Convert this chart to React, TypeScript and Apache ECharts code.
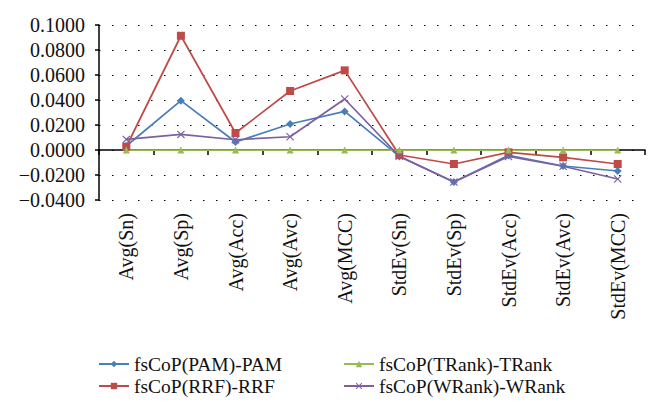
import React, { useEffect, useRef } from "react";
import * as echarts from "echarts";

const categories = [
  "Avg(Sn)", "Avg(Sp)", "Avg(Acc)", "Avg(Avc)", "Avg(MCC)",
  "StdEv(Sn)", "StdEv(Sp)", "StdEv(Acc)", "StdEv(Avc)", "StdEv(MCC)",
];
const pamValues = [0.0032, 0.0395, 0.0064, 0.0208, 0.0309, -0.0051, -0.0256, -0.0043, -0.0128, -0.0168];
const rrfValues = [0.0026, 0.0914, 0.0136, 0.0472, 0.0637, -0.0040, -0.0112, -0.0019, -0.0059, -0.0112];
const trankValues = [0, 0, 0, 0, 0, 0, 0, 0, 0, 0];
const wrankValues = [0.0085, 0.0125, 0.0082, 0.0106, 0.0408, -0.0050, -0.0256, -0.0051, -0.0130, -0.0232];
const seriesNames = ["fsCoP(PAM)-PAM", "fsCoP(RRF)-RRF", "fsCoP(TRank)-TRank", "fsCoP(WRank)-WRank"];

const FONT = "'Liberation Serif', 'DejaVu Serif', serif";
const XSYM = "path://M1,0 L5,4 L9,0 L10,1 L6,5 L10,9 L9,10 L5,6 L1,10 L0,9 L4,5 L0,1 Z";

export default function App() {
  const ref = useRef<HTMLDivElement>(null);
  useEffect(() => {
    if (!ref.current) return;
    const chart = echarts.init(ref.current, null, { renderer: "svg" });
    const mk = (name: string, data: number[], color: string, symbol: string, size: number) => ({
      name,
      type: "line",
      data,
      symbol,
      symbolSize: size,
      lineStyle: { color, width: 1.75 },
      itemStyle: { color },
    });
    chart.setOption({
      animation: false,
      backgroundColor: "#ffffff",
      grid: { left: 99, right: 15, top: 25, bottom: 213 },
      xAxis: {
        type: "category",
        data: categories,
        boundaryGap: true,
        axisLine: { lineStyle: { color: "#000", width: 1.5 } },
        axisTick: { show: true, length: 5, lineStyle: { color: "#000", width: 1.5 } },
        axisLabel: { rotate: 90, margin: 13, fontFamily: FONT, fontSize: 20, color: "#111", interval: 0 },
        splitLine: { show: false },
      },
      yAxis: {
        type: "value",
        min: -0.04,
        max: 0.1,
        interval: 0.02,
        axisLine: { show: true, lineStyle: { color: "#000", width: 1.5 } },
        axisTick: { show: true, length: 4, lineStyle: { color: "#000", width: 1.5 } },
        axisLabel: {
          margin: 14,
          fontFamily: FONT,
          fontSize: 20,
          color: "#111",
          formatter: (v: number) => (v < 0 ? "\u2212" + Math.abs(v).toFixed(4) : v.toFixed(4)),
        },
        splitLine: { show: true, lineStyle: { color: "#000", width: 1.2, type: [1.5, 11.5] } },
      },
      legend: [
        {
          data: [seriesNames[0], seriesNames[1]],
          orient: "vertical",
          left: 93,
          top: 349,
          itemWidth: 30,
          itemHeight: 8,
          itemGap: 2,
          textStyle: { fontFamily: FONT, fontSize: 19.5, color: "#111" },
        },
        {
          data: [seriesNames[2], seriesNames[3]],
          orient: "vertical",
          left: 338,
          top: 349,
          itemWidth: 30,
          itemHeight: 8,
          itemGap: 2,
          textStyle: { fontFamily: FONT, fontSize: 19.5, color: "#111" },
        },
      ],
      series: [
        mk(seriesNames[0], pamValues, "#4A7EBB", "diamond", 8),
        mk(seriesNames[1], rrfValues, "#BE4B48", "rect", 8),
        mk(seriesNames[2], trankValues, "#98B954", "triangle", 7),
        mk(seriesNames[3], wrankValues, "#7D60A0", XSYM, 8),
      ],
    });
    return () => chart.dispose();
  }, []);
  return <div ref={ref} style={{ width: 660, height: 413, position: "absolute", left: 0, top: 0 }} />;
}
